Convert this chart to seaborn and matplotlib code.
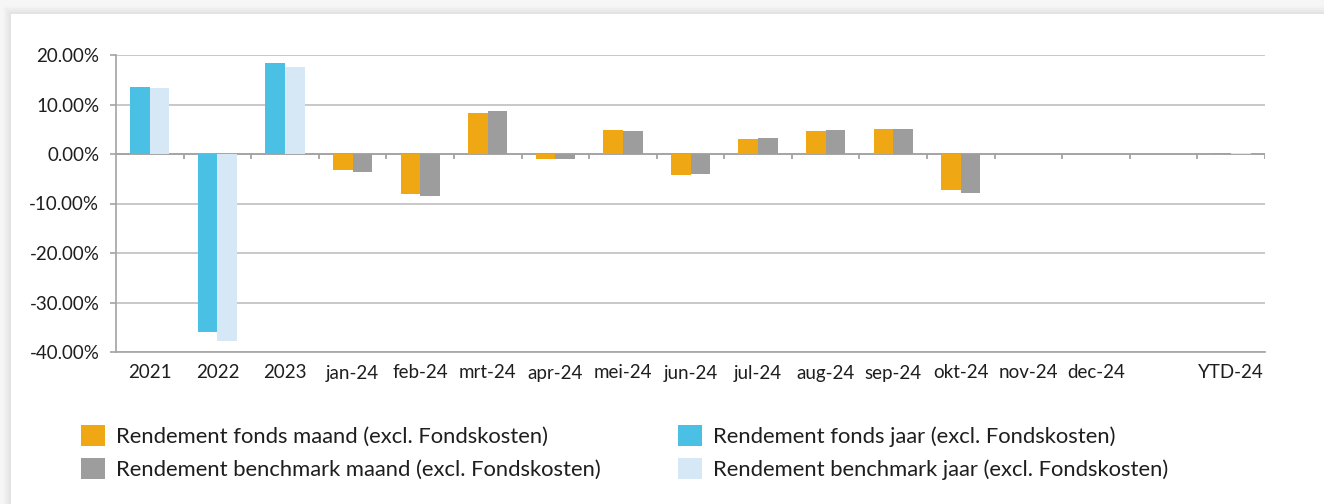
import numpy as np
import pandas as pd
import matplotlib
matplotlib.use('Agg')
import matplotlib.pyplot as plt
import matplotlib.patches as mpatches
from matplotlib.ticker import FuncFormatter
import seaborn as sns

# ── data (percent) ──
categories = ['2021', '2022', '2023', 'jan-24', 'feb-24', 'mrt-24', 'apr-24', 'mei-24',
              'jun-24', 'jul-24', 'aug-24', 'sep-24', 'okt-24', 'nov-24', 'dec-24', ' ', 'YTD-24']

maand_labels = ['jan-24', 'feb-24', 'mrt-24', 'apr-24', 'mei-24', 'jun-24',
                'jul-24', 'aug-24', 'sep-24', 'okt-24', 'nov-24', 'dec-24']
fonds_maand = [-3.3, -8.0, 8.3, -1.1, 4.8, -4.2, 3.0, 4.6, 5.0, -7.3, np.nan, np.nan]
bench_maand = [-3.6, -8.4, 8.6, -1.1, 4.7, -4.0, 3.2, 4.8, 5.0, -7.9, np.nan, np.nan]

jaar_labels = ['2021', '2022', '2023', 'YTD-24']
fonds_jaar = [13.5, -35.9, 18.4, 0.3]
bench_jaar = [13.3, -37.7, 17.6, 0.2]

series_labels = {
    'fonds maand': 'Rendement fonds maand (excl. Fondskosten)',
    'bench maand': 'Rendement benchmark maand (excl. Fondskosten)',
    'fonds jaar': 'Rendement fonds jaar (excl. Fondskosten)',
    'bench jaar': 'Rendement benchmark jaar (excl. Fondskosten)',
}
colors = {
    'fonds maand': '#EFA813',
    'bench maand': '#9D9D9D',
    'fonds jaar': '#4BC0E5',
    'bench jaar': '#D6E8F6',
}

df_maand = pd.DataFrame({
    'cat': maand_labels * 2,
    'serie': ['fonds'] * len(maand_labels) + ['benchmark'] * len(maand_labels),
    'value': fonds_maand + bench_maand,
}).dropna()
df_jaar = pd.DataFrame({
    'cat': jaar_labels * 2,
    'serie': ['fonds'] * len(jaar_labels) + ['benchmark'] * len(jaar_labels),
    'value': fonds_jaar + bench_jaar,
})

sns.set_theme(style='white')
plt.rcParams['font.family'] = ['Lato', 'DejaVu Sans']
TXT = '#1e1e1e'
GRID = '#c4c4c4'
AXIS = '#a3a3a3'

W, H = 1324, 504
fig = plt.figure(figsize=(W / 100, H / 100), dpi=100)
fig.patch.set_facecolor('#f6f6f6')

# soft shadow around the white panel
for i, c in enumerate(['#f3f3f3', '#eeeeee', '#e9e9e9', '#e3e3e3']):
    off = (4 - i) * 2
    fig.add_artist(mpatches.Rectangle(((11 - off) / W, 0), 1, 1 - (14 - off) / H,
                                      transform=fig.transFigure, facecolor=c,
                                      edgecolor='none', zorder=-3))
fig.add_artist(mpatches.Rectangle((11 / W, 0), 1, 1 - 14 / H, transform=fig.transFigure,
                                  facecolor='white', edgecolor='none', zorder=-2))

ax = fig.add_axes([116 / W, 1 - 352 / H, (1265 - 116) / W, (352 - 55) / H])
ax.set_facecolor('none')

bar_kw = dict(x='cat', y='value', hue='serie', order=categories, hue_order=['fonds', 'benchmark'],
              width=0.58, gap=0, errorbar=None, legend=False, saturation=1,
              linewidth=0, edgecolor='none', ax=ax, zorder=3)
sns.barplot(data=df_jaar, palette=[colors['fonds jaar'], colors['bench jaar']], **bar_kw)
sns.barplot(data=df_maand, palette=[colors['fonds maand'], colors['bench maand']], **bar_kw)

ax.set_xlim(-0.5, len(categories) - 0.5)
ax.set_ylim(-40, 20)
ax.set_yticks(np.arange(-40, 21, 10))
ax.yaxis.set_major_formatter(FuncFormatter(lambda v, _: f'{v:.2f}%'))
ax.set_xlabel('')
ax.set_ylabel('')

ax.grid(axis='y', color=GRID, linewidth=1.3, zorder=0)
ax.grid(axis='x', visible=False)
for s in ['top', 'right']:
    ax.spines[s].set_visible(False)
ax.spines['left'].set_color(AXIS)
ax.spines['bottom'].set_color(AXIS)
ax.spines['left'].set_linewidth(1.2)
ax.spines['bottom'].set_linewidth(1.2)

ax.tick_params(axis='y', length=4, width=1.2, color=AXIS, pad=8, labelsize=13.5, labelcolor=TXT, left=True)
ax.tick_params(axis='x', length=0, pad=9, labelsize=13.5, labelcolor=TXT)

# zero line with category separators
ax.axhline(0, color=AXIS, linewidth=1.3, zorder=2)
bounds = np.arange(len(categories) + 1) - 0.5
ax.vlines(bounds[1:], -1.1, 0, color=AXIS, linewidth=1.3, zorder=2)

# legend in two columns
keys_left = ['fonds maand', 'bench maand']
keys_right = ['fonds jaar', 'bench jaar']
for keys, x0 in [(keys_left, 79 / W), (keys_right, 676 / W)]:
    handles = [mpatches.Patch(facecolor=colors[k], edgecolor='none', label=series_labels[k]) for k in keys]
    leg = fig.legend(handles=handles, loc='upper left', bbox_to_anchor=(x0, 1 - 423 / H),
                     frameon=False, handlelength=1.1, handleheight=1.1,
                     handletextpad=0.5, labelspacing=0.5, borderpad=0.1, borderaxespad=0,
                     prop={'size': 15.8})
    for t in leg.get_texts():
        t.set_color(TXT)

fig.savefig('out.png', dpi=100, facecolor=fig.get_facecolor())
